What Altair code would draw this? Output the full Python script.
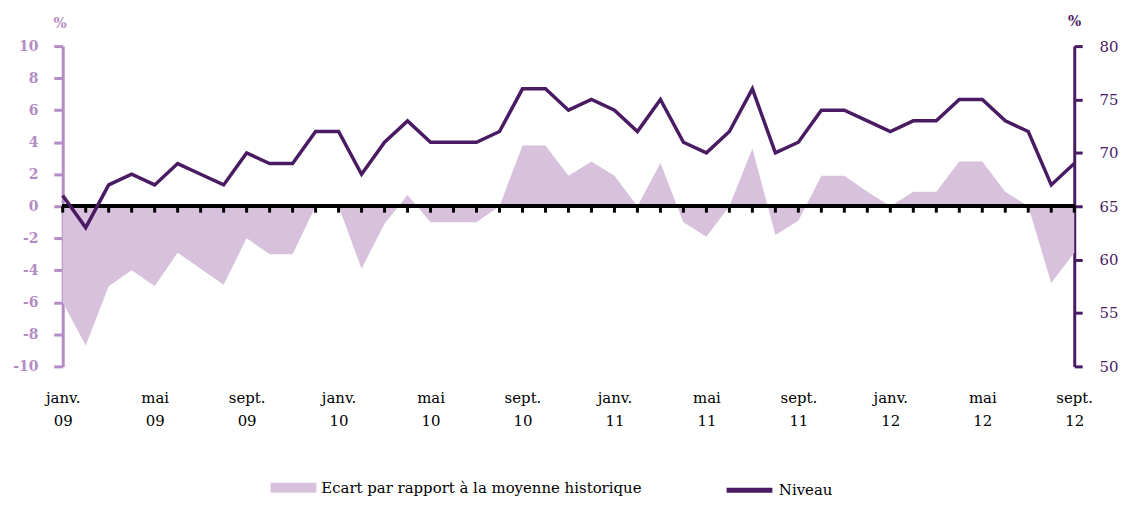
import altair as alt
import pandas as pd

noms_mois = ["janv.", "févr.", "mars", "avr.", "mai", "juin", "juil.", "août", "sept.", "oct.", "nov.", "déc."]
annees = ["09", "10", "11", "12"]
mois = [f"{m} {a}" for a in annees for m in noms_mois][:45]

ecart = [-6.0, -8.7, -5.0, -4.0, -5.0, -2.9, -3.9, -4.9, -2.0, -3.0, -3.0, 0.0,
         0.0, -3.9, -1.1, 0.7, -1.0, -1.0, -1.0, 0.0, 3.8, 3.8, 1.9, 2.8,
         1.9, 0.0, 2.7, -1.0, -1.9, 0.0, 3.6, -1.8, -0.9, 1.9, 1.9, 0.9,
         0.0, 0.9, 0.9, 2.8, 2.8, 0.9, 0.0, -4.8, -2.9]
niveau = [66, 63, 67, 68, 67, 69, 68, 67, 70, 69, 69, 72,
          72, 68, 71, 73, 71, 71, 71, 72, 76, 76, 74, 75,
          74, 72, 75, 71, 70, 72, 76, 70, 71, 74, 74, 73,
          72, 73, 73, 75, 75, 73, 72, 67, 69]
etiquettes = ["janv. 09", "mai 09", "sept. 09", "janv. 10", "mai 10", "sept. 10",
              "janv. 11", "mai 11", "sept. 11", "janv. 12", "mai 12", "sept. 12"]
series = ["Ecart par rapport à la moyenne historique", "Niveau"]

LIGHT = "#D8C1DD"
AXL = "#B48CC4"
DARK = "#4A1A63"
FONT = "DejaVu Serif"

df = pd.DataFrame({"mois": mois, "ecart": ecart, "niveau": niveau,
                   "s_ecart": series[0], "s_niveau": series[1]})

xenc = alt.X("mois:O", sort=mois, title=None,
             scale=alt.Scale(type="point", padding=0),
             axis=alt.Axis(values=etiquettes, labelExpr="split(datum.value, ' ')",
                           domain=False, ticks=False, labelAngle=0, labelPadding=24,
                           labelFont=FONT, labelFontSize=15, labelColor="black",
                           labelLineHeight=23, labelBaseline="top", grid=False))

area = alt.Chart(df).mark_area(opacity=1).encode(
    x=xenc,
    y=alt.Y("ecart:Q", scale=alt.Scale(domain=[-10, 10], nice=False),
            axis=alt.Axis(values=list(range(-10, 11, 2)), orient="left",
                          labelExpr="'' + datum.value", labelOverlap=False,
                          domainColor=AXL, domainWidth=3, tickColor=AXL, tickWidth=3,
                          tickSize=9, labelPadding=16, labelFont=FONT, labelFontSize=14,
                          labelFontWeight="bold", labelColor=AXL, grid=False,
                          title="%", titleAngle=0, titleX=-3, titleY=-16,
                          titleAlign="center", titleFont=FONT, titleFontSize=14,
                          titleFontWeight="bold", titleColor=AXL)),
    fill=alt.Fill("s_ecart:N", scale=alt.Scale(domain=[series[0]], range=[LIGHT]),
                  legend=alt.Legend(title=None, orient="none", legendX=209, legendY=421,
                                    symbolType="M-1,-0.22L1,-0.22L1,0.22L-1,0.22Z",
                                    symbolSize=2116, symbolStrokeWidth=0, labelLimit=0,
                                    labelFont=FONT, labelFontSize=15, labelColor="black",
                                    labelOffset=5)),
)

yright_axis = alt.Axis(values=list(range(50, 81, 5)), orient="right", labelOverlap=False,
                       domainColor=DARK, domainWidth=3, tickColor=DARK, tickWidth=3,
                       tickSize=8, labelPadding=17, labelFont=FONT, labelFontSize=15,
                       labelColor=DARK, grid=False,
                       title="%", titleAngle=0, titleX=0, titleY=-18,
                       titleAlign="center", titleFont=FONT, titleFontSize=14,
                       titleFontWeight="bold", titleColor=DARK)
yright_scale = alt.Scale(domain=[50, 80], nice=False, zero=False)

# ligne de référence (moyenne historique = 0 à gauche, 65 à droite)
zero = alt.Chart(df).mark_rule(color="black", strokeWidth=3).encode(
    y=alt.YDatum(65, scale=yright_scale, axis=yright_axis)
)

ticks = alt.Chart(df).mark_rule(color="black", strokeWidth=3).encode(
    x=xenc,
    y=alt.YDatum(65, scale=yright_scale, axis=yright_axis),
    y2=alt.datum(64.4),
)

line = alt.Chart(df).mark_line(strokeWidth=3.5, color=DARK).encode(
    x=xenc,
    y=alt.Y("niveau:Q", scale=yright_scale, axis=yright_axis),
    stroke=alt.Stroke("s_niveau:N", scale=alt.Scale(domain=[series[1]], range=[DARK]),
                      legend=alt.Legend(title=None, orient="none", legendX=665, legendY=421,
                                        symbolType="stroke", symbolSize=2116,
                                        symbolStrokeWidth=5, labelLimit=0,
                                        labelFont=FONT, labelFontSize=15,
                                        labelColor="black", labelOffset=4)),
)

droite = alt.layer(zero, ticks, line)

chart = alt.layer(area, droite).resolve_scale(
    y="independent"
).properties(
    width=1017, height=322,
    background="white",
    autosize=alt.AutoSizeParams(type="none"),
    padding={"left": 55, "top": 37, "right": 44, "bottom": 133},
).configure_view(stroke=None).configure_axis(grid=False).configure_legend(
    labelFont=FONT, labelFontSize=15, labelColor="black"
)

chart.save("out.html", embed_options={"renderer": "svg", "actions": False})
